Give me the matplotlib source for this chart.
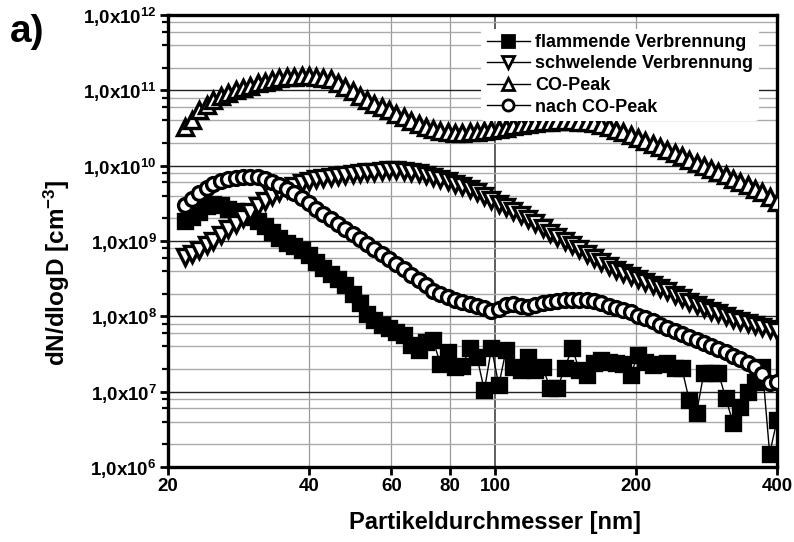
import numpy as np
import matplotlib as mpl
mpl.use('Agg')
import matplotlib.pyplot as plt
from matplotlib.ticker import FixedLocator, LogLocator, FuncFormatter, NullFormatter

plt.rcParams['font.family'] = ['Liberation Sans', 'DejaVu Sans']
plt.rcParams['font.weight'] = 'bold'
plt.rcParams['mathtext.fontset'] = 'custom'
plt.rcParams['mathtext.rm'] = 'Liberation Sans:bold'
plt.rcParams['mathtext.default'] = 'rm'

# particle diameter channels [nm]
diameter = [21.7, 22.5, 23.3, 24.2, 25.0, 26.0, 26.9, 27.9, 28.9, 30.0,
            31.1, 32.2, 33.4, 34.6, 35.9, 37.2, 38.6, 40.0, 41.4, 42.9,
            44.5, 46.1, 47.8, 49.6, 51.4, 53.3, 55.2, 57.2, 59.3, 61.5,
            63.7, 66.1, 68.6, 71.1, 73.7, 76.4, 79.2, 82.1, 85.1, 88.2,
            91.4, 94.8, 98.2, 101.8, 105.5, 109.4, 113.4, 117.6, 121.9, 126.4,
            131.0, 135.8, 140.8, 146.0, 151.3, 156.8, 162.6, 168.5, 174.7, 181.1,
            187.7, 194.6, 201.7, 209.1, 217.0, 224.9, 233.1, 241.7, 250.5, 259.7,
            269.2, 279.1, 289.3, 299.9, 310.9, 322.3, 334.1, 346.3, 359.0, 372.2,
            385.8, 400.0]

flammend = [1.84e9, 2.1e9, 2.4e9, 2.9e9, 3.1e9, 3.0e9, 2.7e9, 2.5e9, 2.27e9, 2.08e9,
            1.84e9, 1.58e9, 1.31e9, 1.09e9, 9.4e8, 8.6e8, 7.6e8, 6.5e8, 5.2e8, 4.4e8,
            3.6e8, 3.1e8, 2.6e8, 2.0e8, 1.5e8, 1.07e8, 8.9e7, 7.7e7, 7.0e7, 6.2e7,
            5.6e7, 4.1e7, 3.6e7, 4.5e7, 4.8e7, 2.3e7, 3.35e7, 2.1e7, 2.2e7, 3.8e7,
            2.9e7, 1.05e7, 3.8e7, 1.22e7, 3.6e7, 2.1e7, 1.93e7, 2.9e7, 1.93e7, 2.1e7,
            1.11e7, 1.11e7, 2.05e7, 3.8e7, 1.93e7, 1.66e7, 2.4e7, 2.6e7, 2.5e7, 2.4e7,
            2.3e7, 1.66e7, 3.05e7, 2.5e7, 2.25e7, 2.3e7, 2.4e7, 2.05e7, 2.05e7, 7.7e6,
            5.2e6, 1.76e7, 1.76e7, 1.76e7, 8.2e6, 3.8e6, 6.2e6, 1.0e7, 1.34e7, 2.1e7,
            1.5e6, 4.2e6]

schwelend = [6.1e8, 6.7e8, 7.6e8, 8.8e8, 1.0e9, 1.2e9, 1.44e9, 1.67e9, 2.0e9, 2.4e9,
             2.9e9, 3.4e9, 3.9e9, 4.5e9, 4.9e9, 5.4e9, 5.9e9, 6.2e9, 6.6e9, 6.8e9,
             7.1e9, 7.3e9, 7.5e9, 7.8e9, 8.0e9, 8.2e9, 8.2e9, 8.5e9, 8.7e9, 8.7e9,
             8.5e9, 8.2e9, 8.0e9, 7.5e9, 7.1e9, 6.6e9, 6.2e9, 5.7e9, 5.4e9, 4.9e9,
             4.5e9, 3.9e9, 3.5e9, 3.1e9, 2.8e9, 2.5e9, 2.2e9, 1.95e9, 1.73e9, 1.48e9,
             1.27e9, 1.13e9, 1.0e9, 8.8e8, 7.8e8, 6.7e8, 5.9e8, 5.2e8, 4.6e8, 4.1e8,
             3.75e8, 3.4e8, 3.1e8, 2.85e8, 2.6e8, 2.37e8, 2.16e8, 1.9e8, 1.75e8, 1.55e8,
             1.41e8, 1.29e8, 1.17e8, 1.1e8, 1.0e8, 9.2e7, 8.7e7, 8.1e7, 7.7e7, 7.2e7,
             6.8e7, 6.4e7]

co_peak = [3.3e10, 4.1e10, 5.5e10, 6.4e10, 7.4e10, 8.4e10, 9.2e10, 1.0e11, 1.07e11, 1.13e11,
           1.25e11, 1.29e11, 1.37e11, 1.46e11, 1.5e11, 1.5e11, 1.55e11, 1.55e11, 1.5e11, 1.46e11,
           1.4e11, 1.27e11, 1.1e11, 9.8e10, 8.4e10, 7.4e10, 6.6e10, 6.0e10, 5.5e10, 4.8e10,
           4.4e10, 3.9e10, 3.55e10, 3.25e10, 3.05e10, 2.9e10, 2.8e10, 2.7e10, 2.7e10, 2.8e10,
           2.8e10, 2.9e10, 3.0e10, 3.05e10, 3.15e10, 3.35e10, 3.45e10, 3.55e10, 3.7e10, 3.8e10,
           3.8e10, 3.9e10, 3.9e10, 3.9e10, 3.8e10, 3.8e10, 3.7e10, 3.45e10, 3.25e10, 3.0e10,
           2.8e10, 2.55e10, 2.33e10, 2.1e10, 1.94e10, 1.77e10, 1.6e10, 1.47e10, 1.34e10, 1.19e10,
           1.09e10, 1.0e10, 9.0e9, 8.2e9, 7.5e9, 6.6e9, 6.1e9, 5.5e9, 4.9e9, 4.5e9,
           3.85e9, 3.3e9]

nach_co = [3.0e9, 3.6e9, 4.3e9, 5.0e9, 5.7e9, 6.2e9, 6.6e9, 6.8e9, 7.1e9, 7.1e9,
           7.1e9, 6.6e9, 6.1e9, 5.5e9, 4.9e9, 4.3e9, 3.7e9, 3.2e9, 2.7e9, 2.3e9,
           1.95e9, 1.67e9, 1.44e9, 1.24e9, 1.06e9, 9.1e8, 7.8e8, 6.7e8, 5.75e8, 4.9e8,
           4.2e8, 3.5e8, 3.0e8, 2.6e8, 2.2e8, 1.97e8, 1.8e8, 1.64e8, 1.55e8, 1.45e8,
           1.36e8, 1.29e8, 1.17e8, 1.25e8, 1.41e8, 1.45e8, 1.36e8, 1.32e8, 1.41e8, 1.5e8,
           1.55e8, 1.6e8, 1.64e8, 1.64e8, 1.64e8, 1.64e8, 1.6e8, 1.5e8, 1.36e8, 1.29e8,
           1.21e8, 1.13e8, 1.02e8, 9.5e7, 8.7e7, 7.7e7, 7.0e7, 6.4e7, 5.8e7, 5.3e7,
           4.8e7, 4.4e7, 4.0e7, 3.7e7, 3.35e7, 3.0e7, 2.7e7, 2.4e7, 2.1e7, 1.7e7,
           1.3e7, 1.33e7]

x_ticks = [20, 40, 60, 80, 100, 200, 400]

fig = plt.figure(figsize=(7.94, 5.42), dpi=100)
ax = fig.add_axes([0.2116, 0.1384, 0.767, 0.8339])

mew = 2.4
ax.plot(diameter, flammend, '-s', color='black', lw=1, ms=10, mew=mew,
        mfc='black', label='flammende Verbrennung', zorder=3)
ax.plot(diameter, schwelend, '-v', color='black', lw=1, ms=11, mew=mew,
        mfc='white', label='schwelende Verbrennung', zorder=3)
ax.plot(diameter, co_peak, '-^', color='black', lw=1, ms=11, mew=mew,
        mfc='white', label='CO-Peak', zorder=3)
ax.plot(diameter, nach_co, '-o', color='black', lw=1, ms=10, mew=mew,
        mfc='white', label='nach CO-Peak', zorder=3)

ax.set_xscale('log')
ax.set_yscale('log')
ax.set_xlim(20, 400)
ax.set_ylim(1e6, 1e12)

ax.xaxis.set_major_locator(FixedLocator(x_ticks))
ax.xaxis.set_major_formatter(FuncFormatter(lambda v, p: '%d' % v))
ax.xaxis.set_minor_locator(FixedLocator([]))
ax.xaxis.set_minor_formatter(NullFormatter())

ax.yaxis.set_major_locator(LogLocator(base=10, numticks=10))
ax.yaxis.set_minor_locator(LogLocator(base=10, subs=(2, 4, 6, 8), numticks=20))
ax.yaxis.set_minor_formatter(NullFormatter())
ax.yaxis.set_major_formatter(FuncFormatter(
    lambda v, p: '1,0x10$^{%d}$' % int(round(np.log10(v)))))

ax.grid(True, which='major', axis='y', color='#222222', lw=1.0, zorder=0)
ax.grid(True, which='minor', axis='y', color='#aaaaaa', lw=1.0, zorder=0)
ax.grid(True, which='major', axis='x', color='#999999', lw=0.9, zorder=0)
for v, gl in zip(x_ticks, ax.get_xgridlines()):
    if v == 100:
        gl.set_color('#333333')
        gl.set_linewidth(1.1)
ax.set_axisbelow(True)

for s in ax.spines.values():
    s.set_linewidth(2.4)
ax.tick_params(which='major', direction='out', length=6, width=2, labelsize=13.5, pad=2)
ax.tick_params(which='minor', direction='out', length=4, width=1.6)

ax.set_xlabel('Partikeldurchmesser [nm]', fontsize=17, fontweight='bold')
ax.xaxis.set_label_coords(0.537, -0.097)
ax.set_ylabel('dN/dlogD [cm$^{-3}$]', fontsize=17.5, fontweight='bold')
ax.yaxis.set_label_coords(-0.158, 0.43)

fig.text(0.012, 0.975, 'a)', fontsize=28, fontweight='bold', va='top', ha='left')

leg = ax.legend(loc='upper right', fontsize=13, frameon=True, framealpha=1,
                edgecolor='none', facecolor='white', handlelength=2.4,
                handletextpad=0.3, labelspacing=0.25, borderpad=0.3,
                bbox_to_anchor=(0.985, 0.99))
for h in leg.legend_handles:
    h.set_markersize(8)
    h.set_markeredgewidth(2)

fig.savefig('out.png', dpi=100)
